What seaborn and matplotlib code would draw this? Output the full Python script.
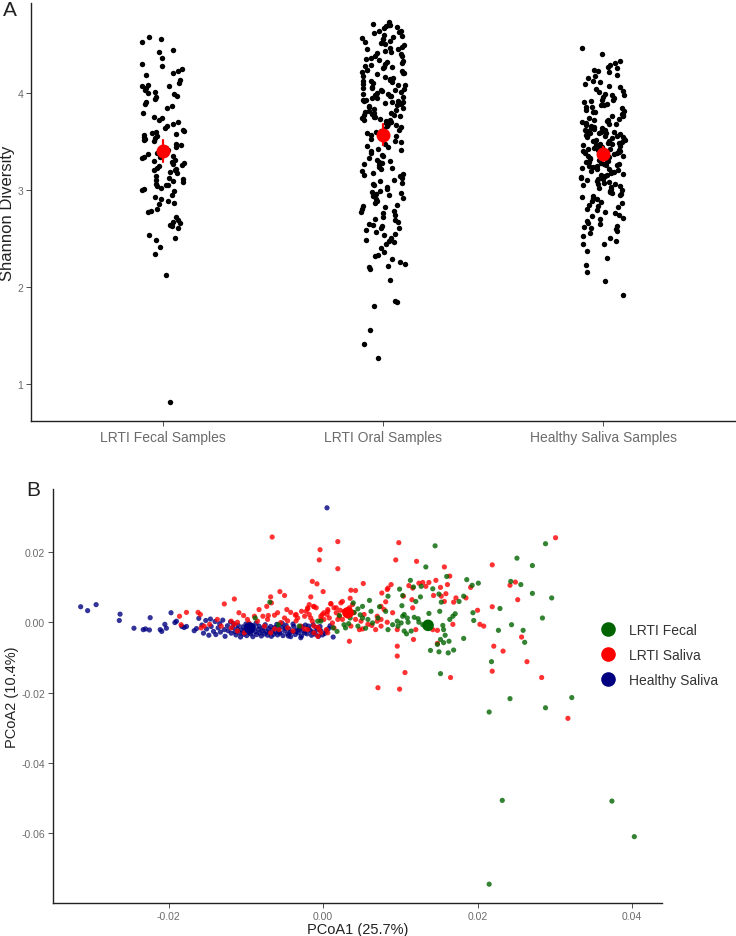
import numpy as np
import pandas as pd
import matplotlib
matplotlib.use("Agg")
import matplotlib.pyplot as plt
import seaborn as sns
from matplotlib.lines import Line2D
from matplotlib.ticker import FormatStrFormatter

# =========================
# PANEL A DATA (Shannon diversity)
# =========================
groups = ["LRTI Fecal Samples", "LRTI Oral Samples", "Healthy Saliva Samples"]

fecal_shannon = [
    4.58, 4.52, 4.55, 4.44, 4.42, 4.36, 4.30, 4.28, 4.25, 4.22, 4.20, 4.18, 4.13, 4.10,
    4.08, 4.07, 4.07, 4.05, 4.01, 4.00, 3.99, 3.97, 3.96, 3.94, 3.90, 3.88, 3.86, 3.84,
    3.79, 3.74, 3.72, 3.70, 3.68, 3.66, 3.64, 3.62, 3.61, 3.60, 3.58, 3.57, 3.56, 3.55,
    3.54, 3.53, 3.51, 3.50, 3.47, 3.46, 3.44, 3.43, 3.41, 3.38, 3.37, 3.36, 3.35, 3.34,
    3.33, 3.31, 3.30, 3.29, 3.27, 3.25, 3.24, 3.22, 3.21, 3.20, 3.18, 3.17, 3.12, 3.11,
    3.10, 3.09, 3.08, 3.06, 3.05, 3.04, 3.02, 3.01, 3.00, 2.99, 2.90, 2.88, 2.86, 2.85,
    2.80, 2.77, 2.72, 2.69, 2.67, 2.66, 2.64, 2.63, 2.53, 2.50, 2.48, 2.41, 2.34, 2.12,
    0.81, 3.05, 2.92, 2.78, 2.60, 3.20, 3.34, 3.52, 3.75, 4.03, 3.14, 2.95, 3.28,
]

oral_shannon = [
    4.73, 4.71, 4.70, 4.70, 4.68, 4.67, 4.64, 4.64, 4.62, 4.60, 4.59, 4.58, 4.55, 4.55,
    4.53, 4.51, 4.50, 4.49, 4.47, 4.45, 4.45, 4.43, 4.41, 4.40, 4.38, 4.38, 4.36, 4.34,
    4.33, 4.32, 4.31, 4.30, 4.29, 4.27, 4.27, 4.26, 4.24, 4.23, 4.22, 4.20, 4.20, 4.19,
    4.17, 4.16, 4.15, 4.14, 4.12, 4.12, 4.11, 4.09, 4.08, 4.08, 4.06, 4.05, 4.04, 4.03,
    4.03, 4.02, 4.01, 4.00, 3.99, 3.99, 3.98, 3.97, 3.96, 3.95, 3.95, 3.93, 3.92, 3.91,
    3.90, 3.90, 3.88, 3.87, 3.86, 3.85, 3.84, 3.83, 3.82, 3.81, 3.79, 3.79, 3.78, 3.77,
    3.76, 3.75, 3.75, 3.74, 3.73, 3.72, 3.71, 3.70, 3.69, 3.68, 3.66, 3.65, 3.63, 3.62,
    3.60, 3.58, 3.56, 3.55, 3.52, 3.50, 3.49, 3.47, 3.45, 3.44, 3.42, 3.41, 3.40, 3.38,
    3.36, 3.35, 3.33, 3.31, 3.30, 3.28, 3.27, 3.25, 3.23, 3.21, 3.19, 3.17, 3.16, 3.14,
    3.12, 3.10, 3.09, 3.07, 3.05, 3.03, 3.01, 2.99, 2.98, 2.96, 2.95, 2.93, 2.90, 2.88,
    2.86, 2.84, 2.82, 2.80, 2.78, 2.76, 2.74, 2.72, 2.70, 2.67, 2.65, 2.64, 2.63, 2.61,
    2.58, 2.56, 2.53, 2.50, 2.48, 2.46, 2.44, 2.36, 2.33, 2.32, 2.25, 2.23, 2.20, 2.18,
    2.07, 1.85, 1.84, 1.80, 1.55, 1.41, 1.26,
    4.69, 4.63, 4.57, 4.52, 4.46, 4.42, 4.35, 4.28, 4.21, 4.13, 4.10, 4.05, 3.97, 3.93,
    3.89, 3.80, 3.77, 3.72, 3.67, 3.61, 3.29, 3.22, 3.15, 3.06, 2.97, 2.91, 2.83, 2.77,
    2.69, 2.60, 2.54, 2.47, 2.40, 2.29, 2.21,
]

healthy_shannon = [
    4.46, 4.40, 4.33, 4.31, 4.29, 4.27, 4.26, 4.24, 4.22, 4.21, 4.18, 4.17, 4.15, 4.12,
    4.11, 4.09, 4.07, 4.06, 4.04, 4.02, 4.01, 3.99, 3.98, 3.98, 3.96, 3.95, 3.93, 3.93,
    3.91, 3.90, 3.88, 3.87, 3.87, 3.85, 3.84, 3.82, 3.81, 3.80, 3.80, 3.78, 3.77, 3.76,
    3.76, 3.74, 3.73, 3.72, 3.72, 3.71, 3.69, 3.68, 3.68, 3.67, 3.66, 3.65, 3.64, 3.64,
    3.63, 3.62, 3.61, 3.60, 3.60, 3.59, 3.58, 3.57, 3.57, 3.56, 3.55, 3.54, 3.54, 3.53,
    3.52, 3.51, 3.51, 3.50, 3.49, 3.48, 3.48, 3.47, 3.46, 3.46, 3.45, 3.44, 3.44, 3.43,
    3.42, 3.42, 3.41, 3.40, 3.40, 3.39, 3.38, 3.38, 3.37, 3.37, 3.36, 3.35, 3.35, 3.34,
    3.33, 3.33, 3.32, 3.31, 3.31, 3.30, 3.29, 3.29, 3.28, 3.27, 3.27, 3.26, 3.25, 3.24,
    3.24, 3.23, 3.22, 3.21, 3.21, 3.20, 3.19, 3.18, 3.18, 3.17, 3.16, 3.15, 3.15, 3.14,
    3.13, 3.12, 3.11, 3.11, 3.10, 3.09, 3.08, 3.07, 3.06, 3.06, 3.05, 3.04, 3.03, 3.02,
    3.01, 3.00, 2.99, 2.98, 2.97, 2.96, 2.95, 2.93, 2.92, 2.91, 2.90, 2.88, 2.87, 2.86,
    2.84, 2.83, 2.82, 2.80, 2.79, 2.77, 2.76, 2.74, 2.73, 2.71, 2.70, 2.68, 2.66, 2.65,
    2.63, 2.62, 2.60, 2.59, 2.57, 2.55, 2.52, 2.50, 2.47, 2.44, 2.44, 2.37, 2.30, 2.22,
    2.15, 2.06, 1.91, 3.70, 3.62, 3.58, 3.55, 3.85, 3.50, 3.47, 3.41,
]

# =========================
# PANEL B DATA (PCoA1, PCoA2)
# =========================
pcoa_labels = ["LRTI Fecal", "LRTI Saliva", "Healthy Saliva"]
pcoa_colors = {"LRTI Fecal": "darkgreen", "LRTI Saliva": "red", "Healthy Saliva": "navy"}

healthy_pcoa = [
    (-0.0314, 0.0044), (-0.0305, 0.0033), (-0.0294, 0.0050), (-0.0263, 0.0023), (-0.0264, 0.0005),
    (-0.0245, -0.0017), (-0.0233, -0.0021), (-0.0230, -0.0019), (-0.0225, -0.0022), (-0.0224, 0.0013),
    (-0.0211, -0.0021), (-0.0209, -0.0026), (-0.0205, -0.0006), (-0.0203, -0.0017), (-0.0197, 0.0027),
    (-0.0192, -0.0001), (-0.0190, 0.0003), (-0.0183, -0.0012), (-0.0180, -0.0015), (-0.0177, -0.0012),
    (-0.0167, -0.0024), (-0.0164, -0.0018), (-0.0161, 0.0011), (-0.0157, -0.0008), (-0.0155, -0.0031),
    (-0.0152, 0.0005), (-0.0151, -0.0019), (-0.0148, -0.0037), (-0.0146, 0.0009), (-0.0145, -0.0012),
    (-0.0142, -0.0026), (-0.0140, 0.0002), (-0.0139, -0.0035), (-0.0136, -0.0016), (-0.0134, -0.0004),
    (-0.0133, -0.0028), (-0.0130, 0.0006), (-0.0128, -0.0021), (-0.0127, -0.0040), (-0.0124, -0.0010),
    (-0.0123, -0.0024), (-0.0120, 0.0001), (-0.0119, -0.0031), (-0.0117, -0.0015), (-0.0116, -0.0004),
    (-0.0114, -0.0027), (-0.0113, -0.0036), (-0.0111, -0.0019), (-0.0110, -0.0009), (-0.0108, -0.0030),
    (-0.0107, -0.0042), (-0.0106, -0.0022), (-0.0104, -0.0013), (-0.0103, -0.0034), (-0.0102, -0.0025),
    (-0.0100, -0.0005), (-0.0099, -0.0038), (-0.0098, -0.0018), (-0.0096, -0.0029), (-0.0095, -0.0010),
    (-0.0094, -0.0033), (-0.0092, -0.0021), (-0.0091, -0.0041), (-0.0090, -0.0014), (-0.0088, -0.0027),
    (-0.0087, -0.0003), (-0.0086, -0.0035), (-0.0084, -0.0020), (-0.0083, -0.0011), (-0.0082, -0.0030),
    (-0.0080, -0.0039), (-0.0079, -0.0024), (-0.0078, -0.0016), (-0.0076, -0.0033), (-0.0075, -0.0007),
    (-0.0074, -0.0026), (-0.0072, -0.0037), (-0.0071, -0.0018), (-0.0070, -0.0029), (-0.0068, -0.0012),
    (-0.0067, -0.0040), (-0.0066, -0.0023), (-0.0064, -0.0034), (-0.0063, -0.0015), (-0.0062, -0.0027),
    (-0.0060, -0.0006), (-0.0059, -0.0036), (-0.0058, -0.0020), (-0.0056, -0.0031), (-0.0054, -0.0013),
    (-0.0052, -0.0038), (-0.0050, -0.0024), (-0.0048, -0.0009), (-0.0046, -0.0033), (-0.0044, -0.0019),
    (-0.0042, -0.0041), (-0.0040, -0.0027), (-0.0038, -0.0012), (-0.0036, -0.0035), (-0.0034, -0.0022),
    (-0.0032, -0.0030), (-0.0030, -0.0016), (-0.0028, -0.0039), (-0.0026, -0.0025), (-0.0023, -0.0008),
    (-0.0021, -0.0033), (-0.0018, -0.0020), (-0.0015, -0.0037), (-0.0012, -0.0028), (-0.0009, -0.0015),
    (-0.0006, -0.0040), (-0.0003, -0.0024), (0.0002, -0.0032), (0.0007, -0.0018), (0.0013, -0.0042),
    (0.0005, 0.0325), (-0.0057, -0.0028), (-0.0049, -0.0017), (-0.0043, -0.0029), (-0.0039, -0.0005),
    (-0.0035, -0.0026), (-0.0031, -0.0021), (-0.0027, -0.0013), (-0.0024, -0.0030), (-0.0019, -0.0011),
    (-0.0016, -0.0025), (-0.0013, -0.0007), (-0.0010, -0.0034), (-0.0007, -0.0021), (-0.0004, -0.0012),
    (-0.0001, -0.0036), (0.0004, -0.0026), (0.0009, -0.0010), (-0.0053, -0.0003), (-0.0045, -0.0039),
    (-0.0029, -0.0044),
]

saliva_pcoa = [
    (-0.0066, 0.0242), (-0.0004, 0.0206), (-0.0005, 0.0177), (0.0019, 0.0229), (0.0019, 0.0152),
    (-0.0014, 0.0116), (-0.0008, 0.0109), (-0.0056, 0.0087), (-0.0050, 0.0076), (-0.0068, 0.0072),
    (-0.0067, 0.0055), (-0.0073, 0.0045), (-0.0016, 0.0072), (0.0000, 0.0087), (-0.0128, 0.0052),
    (-0.0115, 0.0066), (-0.0083, 0.0036), (-0.0162, 0.0028), (-0.0159, 0.0022), (-0.0186, 0.0017),
    (-0.0177, 0.0028), (-0.0109, 0.0027), (-0.0103, 0.0019), (-0.0089, 0.0017), (-0.0078, 0.0017),
    (-0.0063, 0.0020), (-0.0055, -0.0001), (-0.0046, 0.0004), (-0.0036, 0.0020), (-0.0035, 0.0004),
    (-0.0020, 0.0041), (-0.0009, 0.0041), (-0.0018, 0.0022), (-0.0003, 0.0017), (0.0005, 0.0022),
    (-0.0158, -0.0016), (-0.0147, -0.0006), (-0.0115, -0.0006), (-0.0111, -0.0025), (-0.0102, -0.0030),
    (-0.0096, -0.0002), (-0.0076, -0.0011), (-0.0068, -0.0030), (-0.0057, -0.0021), (-0.0046, -0.0016),
    (-0.0039, -0.0025), (-0.0029, -0.0011), (-0.0020, -0.0021), (-0.0012, -0.0030), (-0.0007, -0.0040),
    (-0.0003, -0.0030), (0.0004, -0.0021), (-0.0059, 0.0027), (-0.0047, 0.0036), (-0.0042, 0.0028),
    (-0.0035, 0.0022), (-0.0028, 0.0031), (-0.0020, 0.0038), (-0.0012, 0.0044), (-0.0001, 0.0022),
    (0.0006, 0.0031), (0.0010, 0.0053), (0.0017, 0.0041), (0.0023, 0.0055), (0.0027, 0.0031),
    (0.0034, 0.0041), (-0.0071, 0.0019), (-0.0137, 0.0008), (-0.0119, 0.0003), (-0.0111, 0.0000),
    (-0.0098, 0.0008), (-0.0085, 0.0003), (-0.0072, 0.0008), (-0.0050, 0.0012), (-0.0033, 0.0012),
    (-0.0016, 0.0012), (0.0001, 0.0008), (0.0019, 0.0008), (-0.0184, -0.0007), (-0.0154, -0.0011),
    (-0.0132, -0.0011), (-0.0119, -0.0016), (-0.0063, -0.0019), (-0.0024, -0.0019), (-0.0007, -0.0014),
    (0.0014, -0.0016), (0.0052, 0.0110), (0.0036, 0.0091), (0.0042, 0.0090), (0.0025, 0.0059),
    (0.0035, 0.0068), (0.0038, 0.0050), (0.0014, 0.0041), (0.0010, 0.0052), (0.0006, 0.0036),
    (0.0001, 0.0027), (0.0017, 0.0027), (0.0021, 0.0017), (-0.0012, 0.0045), (-0.0024, 0.0017),
    (-0.0014, 0.0003), (-0.0003, 0.0008), (0.0008, 0.0012), (0.0012, -0.0002), (-0.0012, -0.0011),
    (-0.0005, -0.0021), (0.0006, -0.0030), (-0.0022, 0.0031), (-0.0018, 0.0050), (0.0022, 0.0034),
    (0.0025, 0.0008), (0.0040, 0.0027), (0.0042, 0.0008), (0.0049, 0.0003), (0.0053, 0.0022),
    (0.0036, -0.0011), (0.0047, -0.0021), (0.0051, -0.0019), (0.0058, -0.0006), (0.0063, -0.0009),
    (0.0068, -0.0021), (0.0075, 0.0008), (0.0083, 0.0000), (0.0090, 0.0027), (0.0075, -0.0011),
    (0.0076, 0.0083), (0.0083, 0.0093), (0.0084, 0.0097), (0.0088, 0.0107), (0.0081, 0.0058),
    (0.0075, 0.0045), (0.0079, 0.0036), (0.0070, 0.0017), (0.0070, 0.0003), (0.0098, 0.0226),
    (0.0094, 0.0177), (0.0121, 0.0173), (0.0157, 0.0157), (0.0219, 0.0163), (0.0301, 0.0240),
    (0.0104, 0.0074), (0.0111, 0.0104), (0.0116, 0.0097), (0.0124, 0.0111), (0.0129, 0.0113),
    (0.0137, 0.0113), (0.0146, 0.0119), (0.0133, 0.0102), (0.0152, 0.0099), (0.0161, 0.0107),
    (0.0153, 0.0074), (0.0157, 0.0059), (0.0143, 0.0076), (0.0116, 0.0041), (0.0115, 0.0064),
    (0.0120, -0.0021), (0.0142, -0.0021), (0.0148, -0.0023), (0.0168, -0.0006), (0.0172, 0.0069),
    (0.0185, 0.0069), (0.0169, 0.0057), (0.0191, 0.0099), (0.0200, 0.0034), (0.0203, -0.0006),
    (0.0208, -0.0011), (0.0219, 0.0044), (0.0221, -0.0068), (0.0233, -0.0082), (0.0219, -0.0139),
    (0.0242, 0.0105), (0.0249, 0.0114), (0.0252, 0.0064), (0.0257, -0.0042), (0.0264, -0.0112),
    (0.0283, -0.0157), (0.0159, 0.0081), (0.0096, -0.0068), (0.0096, -0.0096), (0.0106, -0.0143),
    (0.0117, -0.0049), (0.0148, -0.0060), (0.0165, -0.0157), (0.0071, -0.0186), (0.0099, -0.0190),
    (0.0034, -0.0054), (0.0096, -0.0021), (0.0164, 0.0131), (0.0317, -0.0273),
]

fecal_pcoa = [
    (0.0145, 0.0217), (0.0133, 0.0157), (0.0160, 0.0130), (0.0113, 0.0119), (0.0099, 0.0094),
    (0.0117, 0.0100), (0.0127, 0.0102), (0.0142, 0.0095), (0.0084, 0.0074), (0.0060, 0.0062),
    (0.0051, 0.0045), (0.0039, 0.0055), (0.0045, 0.0038), (0.0073, 0.0044), (0.0081, 0.0031),
    (0.0102, 0.0047), (0.0103, 0.0076), (0.0120, 0.0059), (0.0126, 0.0072), (0.0137, 0.0025),
    (0.0151, 0.0031), (0.0153, 0.0057), (0.0150, 0.0080), (0.0103, 0.0017), (0.0105, 0.0022),
    (0.0109, 0.0012), (0.0118, 0.0014), (0.0123, 0.0010), (0.0096, 0.0003), (0.0101, -0.0002),
    (0.0110, 0.0000), (0.0124, 0.0000), (0.0129, -0.0007), (0.0090, -0.0007), (0.0084, -0.0021),
    (0.0097, -0.0011), (0.0105, -0.0025), (0.0108, -0.0033), (0.0114, -0.0025), (0.0058, 0.0008),
    (0.0064, -0.0002), (0.0051, 0.0012), (0.0045, -0.0011), (0.0027, -0.0007), (0.0029, -0.0016),
    (0.0013, -0.0016), (-0.0003, 0.0003), (0.0071, 0.0012), (0.0168, 0.0017), (0.0171, 0.0024),
    (0.0164, 0.0008), (0.0155, -0.0009), (0.0156, -0.0021), (0.0158, -0.0037), (0.0152, -0.0049),
    (0.0148, -0.0063), (0.0156, -0.0058), (0.0163, -0.0054), (0.0169, -0.0079), (0.0162, -0.0087),
    (0.0150, -0.0084), (0.0139, -0.0080), (0.0152, -0.0146), (0.0182, -0.0046), (0.0186, 0.0121),
    (0.0193, 0.0105), (0.0201, 0.0111), (0.0182, 0.0074), (0.0176, 0.0059), (0.0194, 0.0027),
    (0.0195, 0.0005), (0.0229, 0.0039), (0.0227, -0.0023), (0.0243, 0.0116), (0.0256, 0.0107),
    (0.0251, 0.0182), (0.0271, 0.0161), (0.0288, 0.0223), (0.0296, 0.0069), (0.0271, 0.0082),
    (0.0284, 0.0012), (0.0244, -0.0007), (0.0259, -0.0023), (0.0261, -0.0057), (0.0218, -0.0112),
    (-0.0069, 0.0057), (-0.0088, 0.0012), (-0.0058, -0.0007), (-0.0031, -0.0011), (-0.0007, 0.0003),
    (0.0215, -0.0255), (0.0242, -0.0217), (0.0288, -0.0243), (0.0322, -0.0214), (0.0232, -0.0506),
    (0.0374, -0.0508), (0.0403, -0.0609), (0.0215, -0.0744),
    (0.0021, 0.0019), (0.0033, -0.0004), (0.0040, 0.0028), (0.0048, 0.0021), (0.0055, -0.0017),
    (0.0018, -0.0026), (0.0062, 0.0031), (0.0035, 0.0012),
]

TEXT_DARK = "#222222"
TEXT_GREY = "#6b6b6b"

sns.set_style("ticks")
plt.rcParams["font.family"] = ["Liberation Sans", "DejaVu Sans"]
plt.rcParams["axes.unicode_minus"] = False


def style_axes(ax):
    sns.despine(ax=ax)
    for side in ["left", "bottom"]:
        ax.spines[side].set_linewidth(1.0)
        ax.spines[side].set_color(TEXT_DARK)
    ax.tick_params(length=3.6, width=0.6, color="#333333", labelcolor=TEXT_GREY, pad=2)


def padded(lo, hi, frac=0.05):
    span = hi - lo
    return lo - frac * span, hi + frac * span


W, H = 736, 937
fig = plt.figure(figsize=(W / 100, H / 100), dpi=100)

# =========================
# PANEL A
# =========================
df_a = pd.DataFrame({
    "group": [groups[0]] * len(fecal_shannon) + [groups[1]] * len(oral_shannon)
             + [groups[2]] * len(healthy_shannon),
    "shannon": fecal_shannon + oral_shannon + healthy_shannon,
})

ax_a = fig.add_axes([31 / W, 1 - 422 / H, 704 / W, 418 / H])
np.random.seed(11)
sns.stripplot(data=df_a, x="group", y="shannon", order=groups, color="black",
              size=3.9, jitter=0.1, linewidth=0, ax=ax_a, zorder=2)
sns.pointplot(data=df_a, x="group", y="shannon", order=groups, color="red",
              errorbar=("se", 2), linestyle="none", marker="o", markersize=8,
              err_kws={"linewidth": 1.6}, ax=ax_a)
ax_a.set_xlim(-0.6, 2.6)
ax_a.set_ylim(*padded(df_a["shannon"].min(), df_a["shannon"].max()))
ax_a.set_yticks([1, 2, 3, 4])
ax_a.set_xlabel("")
ax_a.set_ylabel("Shannon Diversity", fontsize=12, color=TEXT_DARK, labelpad=2)
style_axes(ax_a)
ax_a.tick_params(axis="x", labelsize=10, pad=3)
ax_a.tick_params(axis="y", labelsize=7.5)

# =========================
# PANEL B
# =========================
frames = []
for label, pts in [("Healthy Saliva", healthy_pcoa), ("LRTI Saliva", saliva_pcoa),
                   ("LRTI Fecal", fecal_pcoa)]:
    arr = np.array(pts)
    frames.append(pd.DataFrame({"pc1": arr[:, 0], "pc2": arr[:, 1], "group": label}))
df_b = pd.concat(frames, ignore_index=True)

ax_b = fig.add_axes([53 / W, 1 - 904 / H, 609 / W, 414 / H])
sns.scatterplot(data=df_b, x="pc1", y="pc2", hue="group", palette=pcoa_colors,
                s=14, alpha=0.8, linewidth=0, legend=False, ax=ax_b)

centroids = df_b.groupby("group", sort=False)[["pc1", "pc2"]].mean().reset_index()
sns.scatterplot(data=centroids, x="pc1", y="pc2", hue="group", palette=pcoa_colors,
                s=70, linewidth=0, legend=False, ax=ax_b, zorder=5)

ax_b.set_xlim(*padded(df_b["pc1"].min(), df_b["pc1"].max()))
ax_b.set_ylim(*padded(df_b["pc2"].min(), df_b["pc2"].max()))
ax_b.set_xticks([-0.02, 0.0, 0.02, 0.04])
ax_b.set_yticks([-0.06, -0.04, -0.02, 0.0, 0.02])
ax_b.xaxis.set_major_formatter(FormatStrFormatter("%.2f"))
ax_b.yaxis.set_major_formatter(FormatStrFormatter("%.2f"))
ax_b.set_xlabel("PCoA1 (25.7%)", fontsize=10.5, color=TEXT_DARK, labelpad=1)
ax_b.set_ylabel("PCoA2 (10.4%)", fontsize=10.5, color=TEXT_DARK, labelpad=2)
style_axes(ax_b)
ax_b.tick_params(labelsize=7.5)

handles = [Line2D([0], [0], marker="o", linestyle="none", markersize=10.5,
                  markerfacecolor=pcoa_colors[g], markeredgewidth=0) for g in pcoa_labels]
fig.legend(handles, pcoa_labels, loc="upper left", bbox_to_anchor=(600.8 / W, 1 - 624 / H),
           frameon=False, fontsize=10, handlelength=1.0, handletextpad=1.0,
           labelspacing=0.8, borderpad=0, borderaxespad=0, labelcolor="#333333")

# panel letters
fig.text(3 / W, 1 - 1 / H, "A", fontsize=15, va="top", ha="left", color=TEXT_DARK)
fig.text(26 / W, 1 - 481 / H, "B", fontsize=15, va="top", ha="left", color=TEXT_DARK)

fig.savefig("out.png", dpi=100)
plt.close(fig)
